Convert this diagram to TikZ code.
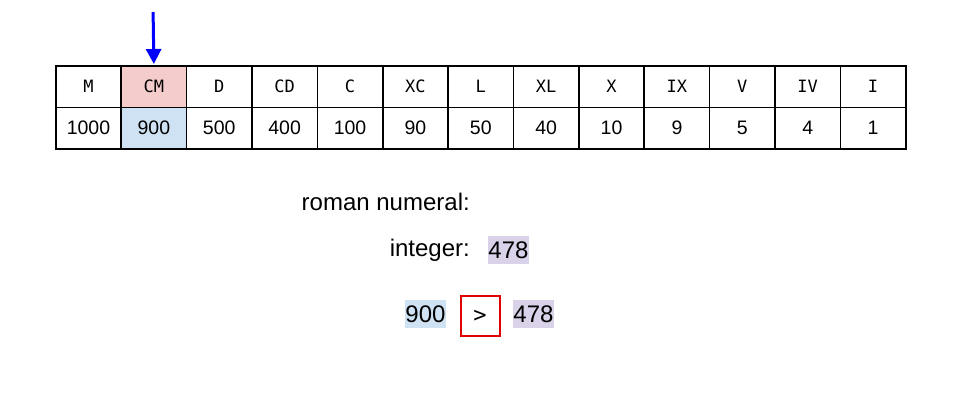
\documentclass[tikz,border=0pt]{standalone}
\usepackage{fontspec}
\setmainfont{Liberation Sans}
\setmonofont{DejaVu Sans Mono}
\usetikzlibrary{arrows.meta,positioning}
\definecolor{cmred}{HTML}{F4CCCC}
\definecolor{cmblue}{HTML}{CFE2F3}
\definecolor{intpurple}{HTML}{D9D2E9}
\definecolor{boxred}{HTML}{E00000}
\tikzset{>={Triangle[length=15pt,width=15pt]},shorten >=1pt}
\tikzset{cell/.style={draw,line width=1.6pt,minimum width=65.4pt,minimum height=41.5pt,
        inner sep=0pt,anchor=north west}}
\tikzset{sym/.style={cell,font=\ttfamily\fontsize{17}{17}\selectfont}}
\tikzset{val/.style={cell,font=\fontsize{19.5}{19.5}\selectfont}}
\tikzset{txt/.style={font=\fontsize{24}{24}\selectfont,inner sep=0pt}}
\tikzset{hl/.style={txt,inner xsep=0pt,minimum height=28pt,text depth=0pt}}

\begin{document}
\begin{tikzpicture}[x=1pt,y=-1pt]
    \useasboundingbox (0,0) rectangle (960,400);
    % lookup table
    \foreach \s/\v/\fs/\fv [count=\i from 0] in {M/1000/white/white,CM/900/cmred/cmblue,
            D/500/white/white,CD/400/white/white,C/100/white/white,XC/90/white/white,
            L/50/white/white,XL/40/white/white,X/10/white/white,IX/9/white/white,
            V/5/white/white,IV/4/white/white,I/1/white/white}
    {
        \node[sym,fill=\fs] (s\i) at ({55+65.38*\i},65) {\s};
        \node[val,fill=\fv] (v\i) at ({55+65.38*\i},106.5) {\v};
    }
    \coordinate (ptr) at (153.1,12);
    \draw[->,blue,line width=3pt] (ptr) -- (s1.north);

    \node[txt,anchor=east] (roman) at (470,202) {roman numeral:};
    \node[txt,anchor=east] (intlabel) at (470,250) {integer:};
    \node[hl,fill=intpurple] (num) at (508.5,250) {478};

    % comparison
    \node[hl,fill=cmblue] (cur) at (425.5,314) {900};
    \node[draw=boxred,line width=2pt,minimum width=39pt,minimum height=40pt,
        font=\ttfamily\fontsize{22}{22}\selectfont] (cmp) at (480,316) {>};
    \node[hl,fill=intpurple] (rest) at (533.5,314) {478};
\end{tikzpicture}
\end{document}
